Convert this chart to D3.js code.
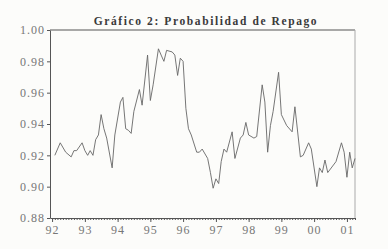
<!DOCTYPE html>
<html lang="es">
<head>
<meta charset="utf-8">
<title>Probabilidad de Repago</title>
<script src="https://cdnjs.cloudflare.com/ajax/libs/d3/7.8.5/d3.min.js"></script>
<style>
  body { margin: 0; background: #fcfcfa; }
  svg { display: block; }
  .title { font-family: "Liberation Serif", "DejaVu Serif", serif; font-weight: bold; font-size: 11.5px; letter-spacing: 1.6px; fill: #3a3a3a; }
  .axis text { font-family: "Liberation Serif", "DejaVu Serif", serif; font-size: 12px; fill: #777; letter-spacing: 1px; }
  .axis path, .axis line { stroke: #555; }
</style>
</head>
<body>
<script>
// months (line vertices)
var dates = ["1992-02","1992-04","1992-06","1992-08","1992-09","1992-10","1992-12",
  "1993-01","1993-02","1993-03","1993-04","1993-05","1993-06","1993-07","1993-08","1993-09","1993-11","1993-12",
  "1994-02","1994-03","1994-04","1994-05","1994-06","1994-07","1994-09","1994-10","1994-12",
  "1995-01","1995-02","1995-04","1995-05","1995-06","1995-07","1995-09","1995-10","1995-11","1995-12",
  "1996-01","1996-02","1996-03","1996-04","1996-06","1996-07","1996-08","1996-10","1996-11","1996-12",
  "1997-01","1997-02","1997-03","1997-04","1997-05","1997-07","1997-08","1997-10","1997-11","1997-12",
  "1998-01","1998-03","1998-04","1998-06","1998-07","1998-08","1998-09","1998-10","1998-12",
  "1999-01","1999-03","1999-05","1999-06","1999-08","1999-09","1999-11","1999-12",
  "2000-02","2000-03","2000-04","2000-05","2000-06","2000-09","2000-11","2000-12",
  "2001-01","2001-02","2001-03","2001-04"];
var values = [0.920,0.928,0.922,0.919,0.923,0.923,0.928,
  0.923,0.920,0.923,0.920,0.930,0.933,0.946,0.937,0.931,0.912,0.933,
  0.954,0.957,0.937,0.936,0.934,0.948,0.962,0.952,0.984,
  0.955,0.965,0.988,0.984,0.980,0.987,0.986,0.984,0.971,0.982,
  0.980,0.950,0.937,0.933,0.922,0.922,0.924,0.918,0.909,0.899,
  0.905,0.902,0.916,0.924,0.922,0.935,0.918,0.931,0.933,0.941,
  0.933,0.931,0.932,0.965,0.954,0.922,0.939,0.948,0.973,
  0.946,0.939,0.935,0.951,0.919,0.920,0.928,0.924,
  0.900,0.912,0.909,0.917,0.909,0.916,0.928,0.922,
  0.906,0.922,0.912,0.918];
var yTicks = [0.88, 0.90, 0.92, 0.94, 0.96, 0.98, 1.00];
var title = "Gráfico 2: Probabilidad de Repago";

function main() {
  var width = 388, height = 249;
  var mLeft = 50, mRight = 355, mTop = 30, mBottom = 218;

  var parse = d3.timeParse("%Y-%m");
  var data = dates.map(function(d, i) { return { date: parse(d), value: values[i] }; });

  var svg = d3.select("body").append("svg")
      .attr("width", width)
      .attr("height", height);

  var x = d3.scaleTime()
      .domain([new Date(1991, 11, 9), new Date(2001, 3, 1)])
      .range([mLeft, mRight]);
  var y = d3.scaleLinear()
      .domain([0.88, 1.00])
      .range([mBottom, mTop]);

  // frame: top and right lines
  svg.append("line").attr("x1", mLeft).attr("x2", mRight).attr("y1", mTop).attr("y2", mTop)
      .attr("stroke", "#555");
  svg.append("line").attr("x1", mRight).attr("x2", mRight).attr("y1", mTop).attr("y2", mBottom)
      .attr("stroke", "#aaa");

  // monthly minor ticks
  svg.append("g")
      .attr("class", "axis")
      .attr("transform", "translate(0," + mBottom + ")")
      .call(d3.axisBottom(x).ticks(d3.timeMonth.every(1)).tickSize(2).tickFormat(""))
      .call(function(g) { g.select(".domain").remove(); g.selectAll("line").attr("stroke", "#888"); });

  svg.append("g")
      .attr("class", "axis")
      .attr("transform", "translate(0," + mBottom + ")")
      .call(d3.axisBottom(x).ticks(d3.timeYear.every(1)).tickSize(4).tickSizeOuter(0)
        .tickFormat(d3.timeFormat("%y")))
      .call(function(g) { g.selectAll("text").attr("dy", "0.75em"); });

  svg.append("g")
      .attr("class", "axis")
      .attr("transform", "translate(" + mLeft + ",0)")
      .call(d3.axisLeft(y).tickValues(yTicks).tickSize(3).tickSizeOuter(0)
        .tickFormat(d3.format(".2f")))
      .call(function(g) { g.selectAll("text").attr("x", -5); });

  var line = d3.line()
      .x(function(d) { return x(d.date); })
      .y(function(d) { return y(d.value); });

  svg.append("path")
      .datum(data)
      .attr("fill", "none")
      .attr("stroke", "#666")
      .attr("stroke-width", 0.9)
      .attr("d", line);

  svg.append("text")
      .attr("class", "title")
      .attr("x", 206)
      .attr("y", 25)
      .attr("text-anchor", "middle")
      .text(title);
}
main();
</script>
</body>
</html>
